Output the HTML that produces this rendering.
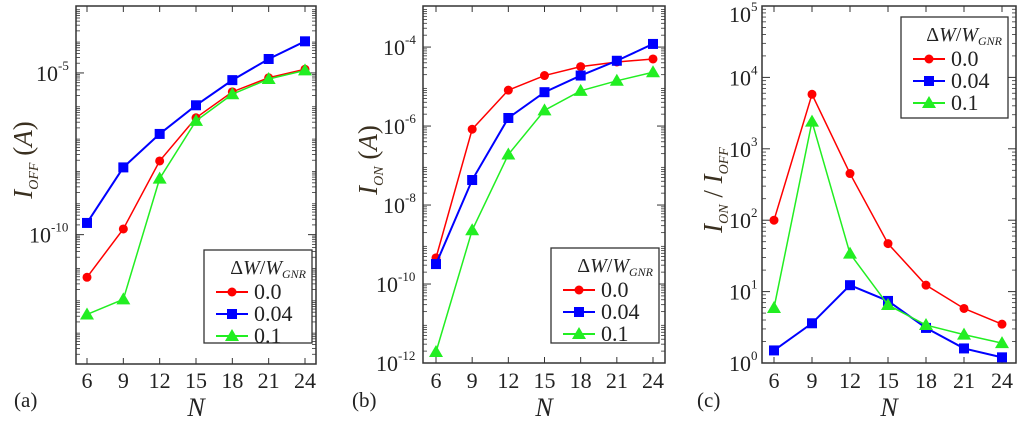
<!DOCTYPE html>
<html><head><meta charset="utf-8"><style>
body{margin:0;background:#fff;}
svg{display:block;}
text{font-family:"Liberation Serif","DejaVu Serif","Times New Roman",serif;}
</style></head><body>
<svg id="chart" width="1024" height="426" viewBox="0 0 1024 426" xmlns="http://www.w3.org/2000/svg"></svg>
<script>
const xCats = [6, 9, 12, 15, 18, 21, 24];
const aRed = [4.8e-12, 1.5e-10, 1.9e-8, 4.1e-7, 2.6e-6, 7.1e-6, 1.3e-5];
const aBlue = [2.3e-10, 1.2e-8, 1.3e-7, 1.0e-6, 6e-6, 2.7e-5, 9.5e-5];
const aGreen = [3.4e-13, 1.0e-12, 5.4e-9, 3.3e-7, 2.2e-6, 6.5e-6, 1.2e-5];
const bRed = [4.6e-10, 8.3e-7, 8.1e-6, 1.9e-5, 3.2e-5, 4.2e-5, 5.0e-5];
const bBlue = [3.2e-10, 4.3e-8, 1.6e-6, 7.2e-6, 1.9e-5, 4.5e-5, 1.2e-4];
const bGreen = [1.9e-12, 2.3e-9, 1.9e-7, 2.5e-6, 7.8e-6, 1.4e-5, 2.3e-5];
const cRed = [100, 5800, 450, 47, 12.3, 5.8, 3.5];
const cBlue = [1.5, 3.6, 12.3, 7.4, 3.1, 1.6, 1.2];
const cGreen = [5.9, 2400, 34, 6.5, 3.4, 2.5, 1.9];
const aTicks = [-10, -5];
const bTicks = [-12, -10, -8, -6, -4];
const cTicks = [0, 1, 2, 3, 4, 5];
const legendLabels = ['0.0', '0.04', '0.1'];

const NS = 'http://www.w3.org/2000/svg';
const svg = document.getElementById('chart');
function mk(tag, attrs, parent) {
  const e = document.createElementNS(NS, tag);
  for (const k in attrs) e.setAttribute(k, attrs[k]);
  if (tag === 'text') e.setAttribute('font-family', 'Liberation Serif, DejaVu Serif, serif');
  (parent || svg).appendChild(e);
  return e;
}
const COLORS = ['#ff0000', '#0000ff', '#22ee22'];
const SHAPES = ['circle', 'square', 'triangle'];

function marker(g, shape, x, y, color) {
  let m;
  if (shape === 'circle') m = mk('circle', {cx: x, cy: y, r: 4.5, fill: color}, g);
  else if (shape === 'square') m = mk('rect', {x: x - 5, y: y - 5, width: 10, height: 10, fill: color}, g);
  else m = mk('polygon', {points: `${x},${y - 7} ${x - 7},${y + 5} ${x + 7},${y + 5}`, fill: color}, g);
  
  
}

function panel(p) {
  const g = mk('g', {});
  
  
  const xs = v => p.x6 + (v - 6) / 18 * (p.x24 - p.x6);
  const ys = v => p.yB - (Math.log10(v) - p.lmin) / (p.lmax - p.lmin) * (p.yB - p.yT);
  const fr = mk('rect', {x: p.L, y: p.yT, width: p.R - p.L, height: p.yB - p.yT, fill: 'none', stroke: '#333', 'stroke-width': 1.5}, g);
  
  
  xCats.forEach(c => {
    const x = xs(c);
    mk('line', {x1: x, x2: x, y1: p.yB, y2: p.yB - 6, stroke: '#333'}, g);
    mk('line', {x1: x, x2: x, y1: p.yT, y2: p.yT + 6, stroke: '#333'}, g);
    const t = mk('text', {x: x, y: 388, 'font-size': 22, 'text-anchor': 'middle', fill: '#222'}, g);
    t.textContent = c;
    
    
  });
  p.ticks.forEach(e => {
    const y = p.yB - (e - p.lmin) / (p.lmax - p.lmin) * (p.yB - p.yT);
    mk('line', {x1: p.L, x2: p.L + 8, y1: y, y2: y, stroke: '#333'}, g);
    mk('line', {x1: p.R, x2: p.R - 8, y1: y, y2: y, stroke: '#333'}, g);
    const sw = String(e).length * 7;
    const ty = Math.max(y + 8, 22);
    const t = mk('text', {x: p.L - 4 - sw, y: ty, 'font-size': 22, 'text-anchor': 'end', fill: '#222'}, g);
    t.textContent = '10';
    
    
    const s = mk('text', {x: p.L - 4 - sw, y: ty - 11, 'font-size': 13, fill: '#222'}, g);
    s.textContent = String(e);
  });
  for (let d = Math.floor(p.lmin); d < p.lmax; d++) {
    for (let k = 2; k < 10; k++) {
      const lv = d + Math.log10(k);
      if (lv > p.lmax) continue;
      const y = p.yB - (lv - p.lmin) / (p.lmax - p.lmin) * (p.yB - p.yT);
      mk('line', {x1: p.L, x2: p.L + 4, y1: y, y2: y, stroke: '#333', 'stroke-width': 0.8}, g);
      mk('line', {x1: p.R, x2: p.R - 4, y1: y, y2: y, stroke: '#333', 'stroke-width': 0.8}, g);
    }
  }
  p.series.forEach((vals, i) => {
    const sg = mk('g', {}, g);
    
    
    const pts = vals.map((v, j) => xs(xCats[j]) + ',' + ys(v)).join(' ');
    mk('polyline', {points: pts, fill: 'none', stroke: COLORS[i], 'stroke-width': i === 1 ? 2 : 1.5}, sg);
    vals.forEach((v, j) => marker(sg, SHAPES[i], xs(xCats[j]), ys(v), COLORS[i]));
  });
  const lg = mk('g', {}, g);
  
  
  const [lx, ly, lw, lh] = p.leg;
  mk('rect', {x: lx, y: ly, width: lw, height: lh, fill: '#fff', stroke: '#333', 'stroke-width': 1.3}, lg);
  const tt = mk('text', {x: lx + lw - 6, y: ly + 24, 'font-size': 20, 'text-anchor': 'end', fill: '#222'}, lg);
  tt.innerHTML = 'Δ<tspan font-style="italic">W</tspan>/<tspan font-style="italic">W</tspan><tspan font-size="12" dy="4" font-style="italic">GNR</tspan>';
  
  legendLabels.forEach((lab, i) => {
    const y = ly + 42 + i * 22;
    const eg = mk('g', {}, lg);
    
    
    mk('line', {x1: lx + 12, x2: lx + 44, y1: y, y2: y, stroke: COLORS[i], 'stroke-width': 2}, eg);
    marker(eg, SHAPES[i], lx + 28, y, COLORS[i]);
    const t = mk('text', {x: lx + 50, y: y + 7, 'font-size': 22, fill: '#222'}, eg);
    t.textContent = lab;
  });
  const xt = mk('text', {x: (p.L + p.R) / 2, y: 416, 'font-size': 26, 'font-style': 'italic', 'text-anchor': 'middle', fill: '#222'}, g);
  xt.textContent = 'N';
  
  
  const yt = mk('text', {x: 0, y: 0, 'font-size': 27, 'text-anchor': 'middle', fill: '#3a3020', transform: `translate(${p.ylx},${p.yly}) rotate(-90)`}, g);
  yt.innerHTML = p.ytitle;
  
  
  const pl = mk('text', {x: p.plx, y: 407, 'font-size': 21, fill: '#222'}, g);
  pl.textContent = p.plabel;
  
  
}

panel({name: 'panel-a', L: 76, R: 316, yT: 6, yB: 364, x6: 87, x24: 305, lmin: -14, lmax: -2.93,
  ticks: aTicks, series: [aRed, aBlue, aGreen], leg: [204, 250, 108, 93],
  ytitle: '<tspan font-style="italic">I</tspan><tspan font-size="14" dy="6" font-style="italic">OFF</tspan><tspan dy="-6"> (</tspan><tspan font-style="italic">A</tspan>)',
  ylx: 32, yly: 160, plabel: '(a)', plx: 14});
panel({name: 'panel-b', L: 423, R: 665, yT: 6, yB: 363, x6: 436, x24: 653, lmin: -12, lmax: -2.96,
  ticks: bTicks, series: [bRed, bBlue, bGreen], leg: [551, 248, 108, 95],
  ytitle: '<tspan font-style="italic">I</tspan><tspan font-size="14" dy="6" font-style="italic">ON</tspan><tspan dy="-6"> (</tspan><tspan font-style="italic">A</tspan>)',
  ylx: 377, yly: 160, plabel: '(b)', plx: 352});
panel({name: 'panel-c', L: 762, R: 1016, yT: 6, yB: 363, x6: 774, x24: 1002, lmin: 0, lmax: 5,
  ticks: cTicks, series: [cRed, cBlue, cGreen], leg: [901, 17, 107, 101],
  ytitle: '<tspan font-style="italic">I</tspan><tspan font-size="14" dy="6" font-style="italic">ON</tspan><tspan dy="-6">  /  </tspan><tspan font-style="italic">I</tspan><tspan font-size="14" dy="6" font-style="italic">OFF</tspan>',
  ylx: 722, yly: 190, plabel: '(c)', plx: 697});
</script>
</body></html>
